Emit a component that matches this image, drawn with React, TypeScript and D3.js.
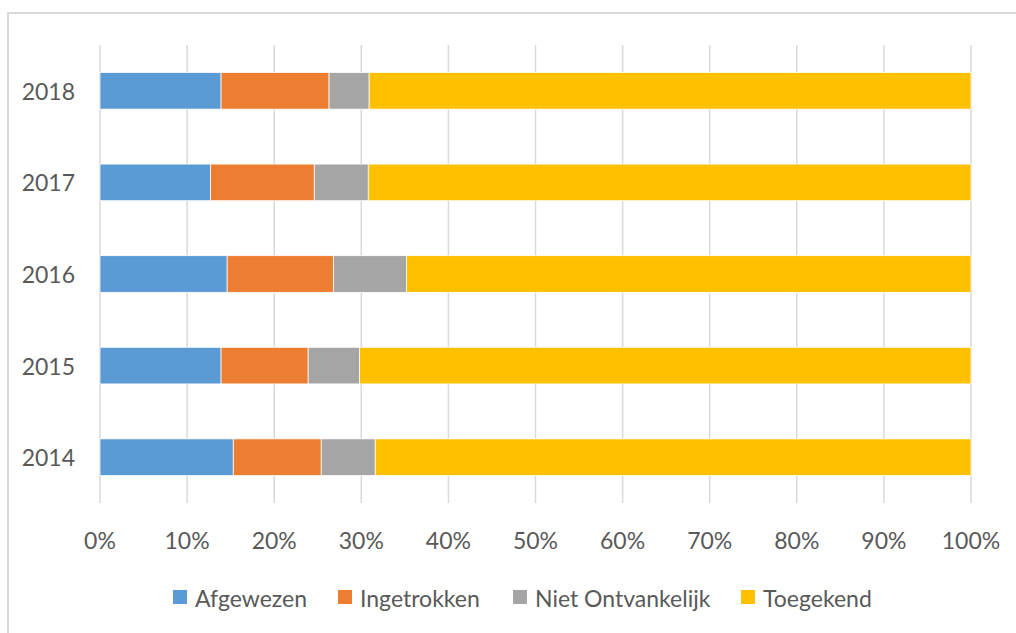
import React from 'react'
import * as d3 from 'd3'

// data (percent of total per year)
const years = ['2018', '2017', '2016', '2015', '2014']
const seriesNames = ['Afgewezen', 'Ingetrokken', 'Niet Ontvankelijk', 'Toegekend']
const afgewezen = [13.9, 12.7, 14.6, 13.9, 15.3]
const ingetrokken = [12.4, 11.9, 12.2, 10.0, 10.1]
const nietOntvankelijk = [4.6, 6.2, 8.4, 5.9, 6.2]
const toegekend = [69.1, 69.2, 64.8, 70.2, 68.4]
const colors = ['#5b9bd5', '#ed7d31', '#a5a5a5', '#ffc000']
const xTicks = [0, 10, 20, 30, 40, 50, 60, 70, 80, 90, 100]

const W = 1016
const H = 633
const font = 'Lato, "Open Sans", sans-serif'
const textColor = '#595959'

function App() {
  const rows = years.map((y, i) => ({
    year: y,
    Afgewezen: afgewezen[i],
    Ingetrokken: ingetrokken[i],
    'Niet Ontvankelijk': nietOntvankelijk[i],
    Toegekend: toegekend[i],
  }))
  const stacked = d3.stack<any>().keys(seriesNames).offset(d3.stackOffsetExpand)(rows)

  const x = d3.scaleLinear().domain([0, 1]).range([100, 971])
  const y = d3.scaleBand().domain(years).range([45, 503]).paddingInner(0.6).paddingOuter(0.3)
  const color = d3.scaleOrdinal<string>().domain(seriesNames).range(colors)

  // legend layout
  const legendX = [173, 338, 513, 741]

  return (
    <svg width={W} height={H} style={{position: 'absolute', left: 0, top: 0, background: '#fff'}}>
      <rect x={8} y={13} width={W + 10} height={H + 10} fill="#fff" stroke="#d9d9d9" strokeWidth={2} />
      {xTicks.map((t) => (
        <line key={t} x1={x(t / 100)} x2={x(t / 100)} y1={45} y2={503} stroke="#d9d9d9" strokeWidth={1.5} />
      ))}
      {stacked.map((s) => (
        <g key={s.key} fill={color(s.key)}>
          {s.map((d: any) => (
            <rect
              key={d.data.year}
              x={x(d[0])}
              width={x(d[1]) - x(d[0])}
              y={y(d.data.year)}
              height={y.bandwidth()}
              stroke="#ffffff"
              strokeWidth={0.75}
            />
          ))}
        </g>
      ))}
      {years.map((yr) => (
        <text
          key={yr}
          x={75}
          y={(y(yr) as number) + y.bandwidth() / 2}
          textAnchor="end"
          dominantBaseline="central"
          fontFamily={font}
          fontSize={23}
          fill={textColor}
        >
          {yr}
        </text>
      ))}
      {xTicks.map((t) => (
        <text
          key={t}
          x={x(t / 100)}
          y={540}
          textAnchor="middle"
          dominantBaseline="central"
          fontFamily={font}
          fontSize={23}
          fill={textColor}
        >
          {t + '%'}
        </text>
      ))}
      {seriesNames.map((n, i) => (
        <g key={n} transform={`translate(${legendX[i]},0)`}>
          <rect x={0} y={590} width={14} height={14} fill={color(n)} />
          <text x={22} y={598} dominantBaseline="central" fontFamily={font} fontSize={23} fill={textColor}>
            {n}
          </text>
        </g>
      ))}
    </svg>
  )
}

export default App
